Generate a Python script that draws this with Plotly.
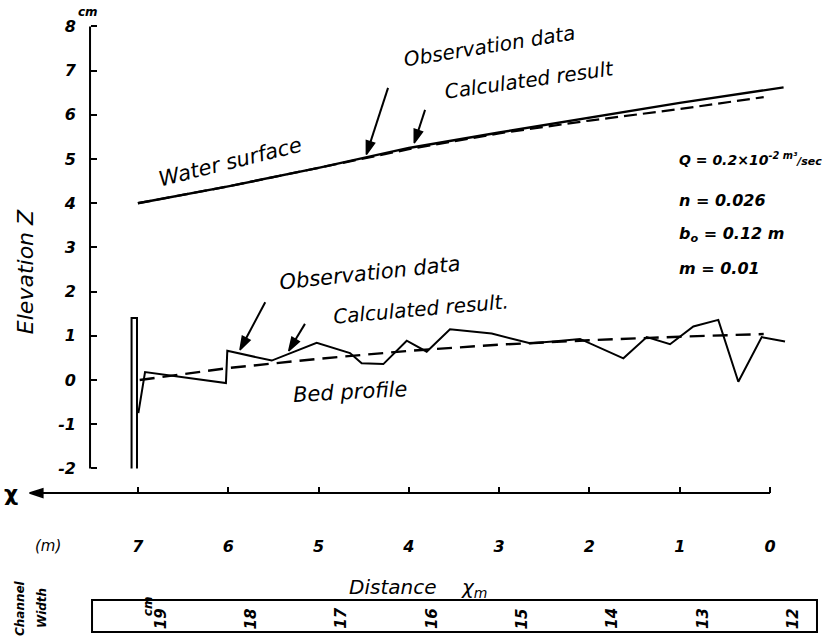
import plotly.graph_objects as go

# ---------------- data ----------------
# water surface (distance x in m, elevation Z in cm)
water_obs_x = [7.0, 6.0, 5.0, 4.0, 3.0, 2.0, 1.0, -0.15]
water_obs_z = [4.0, 4.38, 4.80, 5.25, 5.60, 5.93, 6.27, 6.62]
water_calc_x = [7.0, 6.0, 5.0, 4.0, 3.0, 2.0, 1.0, 0.07]
water_calc_z = [4.0, 4.38, 4.80, 5.22, 5.58, 5.87, 6.13, 6.40]

# bed profile
bed_obs_x = [6.995, 6.921, 6.025, 6.010, 5.518, 5.020, 4.651, 4.522, 4.282, 4.023,
             3.802, 3.544, 3.082, 2.658, 2.403, 2.104, 1.624, 1.365, 1.107, 0.849,
             0.573, 0.351, 0.092, -0.166]
bed_obs_z = [-0.75, 0.18, -0.07, 0.66, 0.44, 0.84, 0.61, 0.38, 0.36, 0.89,
             0.64, 1.15, 1.05, 0.83, 0.87, 0.93, 0.49, 0.97, 0.81, 1.21,
             1.36, -0.04, 0.97, 0.87]
bed_calc_x = [6.98, 6.0, 5.0, 4.0, 3.0, 2.0, 1.0, 0.07]
bed_calc_z = [0.0, 0.27, 0.48, 0.66, 0.80, 0.90, 0.98, 1.04]

# entrance wall
wall_x = [7.07, 7.07, 7.01, 7.01]
wall_z = [-2.0, 1.4, 1.4, -2.0]

# axes ticks
x_ticks = [7, 6, 5, 4, 3, 2, 1, 0]
y_ticks = [-2, -1, 0, 1, 2, 3, 4, 5, 6, 7, 8]

# channel width (cm) at each distance
width_x = [7, 6, 5, 4, 3, 2, 1, 0]
width_cm = ["19", "18", "17", "16", "15", "14", "13", "12"]

params = ["<b>Q = 0.2×10<sup>-2 m³</sup><span style='font-size:11px'>/sec</span></b>",
          "<b>n = 0.026</b>",
          "<b>b<sub>o</sub> = 0.12 m</b>",
          "<b>m = 0.01</b>"]
params_z = [5.0, 4.07, 3.30, 2.53]
params_size = [14, 16, 16, 16]

# ---------------- geometry ----------------
W, H = 829, 637
X_RANGE = [8.527, -0.653]
Y_RANGE = [-5.814, 8.597]
X_AXIS_Z = -2.557
Y_AXIS_X = 7.530

FONT = "DejaVu Sans"
BLACK = "#000000"

fig = go.Figure()

def line(x, y, width, dash="solid"):
    fig.add_trace(go.Scatter(x=x, y=y, mode="lines",
                             line=dict(color=BLACK, width=width, dash=dash),
                             showlegend=False, hoverinfo="skip"))

line(water_calc_x, water_calc_z, 2.2, "13px,6px")
line(water_obs_x, water_obs_z, 2.4)
line(bed_calc_x, bed_calc_z, 2.4, "15px,8px")
line(bed_obs_x, bed_obs_z, 2)
line(wall_x, wall_z, 2)

# y axis line
line([Y_AXIS_X, Y_AXIS_X], [-2, 8], 2)

def arrow(tx, ty, hx, hy, size=14):
    fig.add_trace(go.Scatter(x=[tx, hx], y=[ty, hy], mode="lines+markers",
                             line=dict(color=BLACK, width=2),
                             marker=dict(symbol="arrow", angleref="previous",
                                         size=[0, size], color=BLACK, opacity=1,
                                         line=dict(color=BLACK, width=1.5)),
                             showlegend=False, hoverinfo="skip"))

arrow(0, X_AXIS_Z, 8.20, X_AXIS_Z, 14)   # x axis, arrow toward increasing x
arrow(4.23, 6.61, 4.47, 5.10)
arrow(3.82, 6.11, 3.94, 5.36)
arrow(5.59, 1.76, 5.87, 0.68)
arrow(5.15, 1.27, 5.33, 0.66)

# channel width box
fig.add_shape(type="rect", x0=7.508, x1=-0.52, y0=-4.977, y1=-5.701,
              xref="x", yref="y", line=dict(color=BLACK, width=2))

def text(x, y, s, size=19, angle=0, xanchor="center", bold=False, italic=True):
    fig.add_annotation(x=x, y=y, xref="x", yref="y", text=(f"<b>{s}</b>" if bold else s),
                       showarrow=False, textangle=angle, xanchor=xanchor, yanchor="middle",
                       font=dict(family=FONT, size=size, color=BLACK,
                                 style="italic" if italic else "normal"))

text(5.98, 4.93, "Water surface", 21, -14)
text(3.11, 7.55, "Observation data", 20, -9)
text(2.669, 6.79, "Calculated result", 20, -8)
text(4.43, 2.42, "Observation data", 21, -6)
text(3.865, 1.61, "Calculated result.", 20, -5)
text(4.651, -0.27, "Bed profile", 21, -3)
for s, z, fs in zip(params, params_z, params_size):
    text(1.03, z, s, fs, 0, xanchor="left")
text(8.25, 2.44, "Elevation Z", 22, -90)
text(8.40, X_AXIS_Z, "χ", 22, 0, italic=False, bold=True)
text(8.0, -3.756, "(m)", 15, 0)
text(3.90, -4.706, "Distance&nbsp;&nbsp;&nbsp;&nbsp;χ<sub>m</sub>", 20, 0)
text(7.55, 8.33, "cm", 12, 0, bold=True)
text(8.306, -5.16, "Channel", 12, -90, bold=True)
text(8.062, -5.16, "Width", 12, -90, bold=True)
for wx, wc in zip(width_x, width_cm):
    text(wx - 0.25, -5.40, wc, 15, -90, bold=True)
text(6.89, -5.12, "cm", 12, -90, bold=True)

tickfont = dict(family=FONT, size=16, color=BLACK, style="italic", weight="bold")
fig.update_layout(
    width=W, height=H, margin=dict(l=0, r=0, t=0, b=0),
    paper_bgcolor="white", plot_bgcolor="white", showlegend=False,
    xaxis=dict(domain=[0, 1], range=X_RANGE, anchor="free", position=1 - 493 / H,
               showline=False, showgrid=False, zeroline=False,
               tickmode="array", tickvals=x_ticks, ticktext=[str(t) for t in x_ticks],
               ticks="inside", ticklen=6, tickwidth=2, tickcolor=BLACK,
               ticklabelstandoff=42, tickfont=tickfont),
    yaxis=dict(domain=[0, 1], range=Y_RANGE, anchor="free", position=90 / W,
               showline=False, showgrid=False, zeroline=False,
               tickmode="array", tickvals=y_ticks, ticktext=[str(t) for t in y_ticks],
               ticks="inside", ticklen=6, tickwidth=2, tickcolor=BLACK,
               ticklabelstandoff=14, tickfont=tickfont),
)

fig.write_html("out.html", config={"displayModeBar": False},
               post_script="document.body.style.margin='0';")
